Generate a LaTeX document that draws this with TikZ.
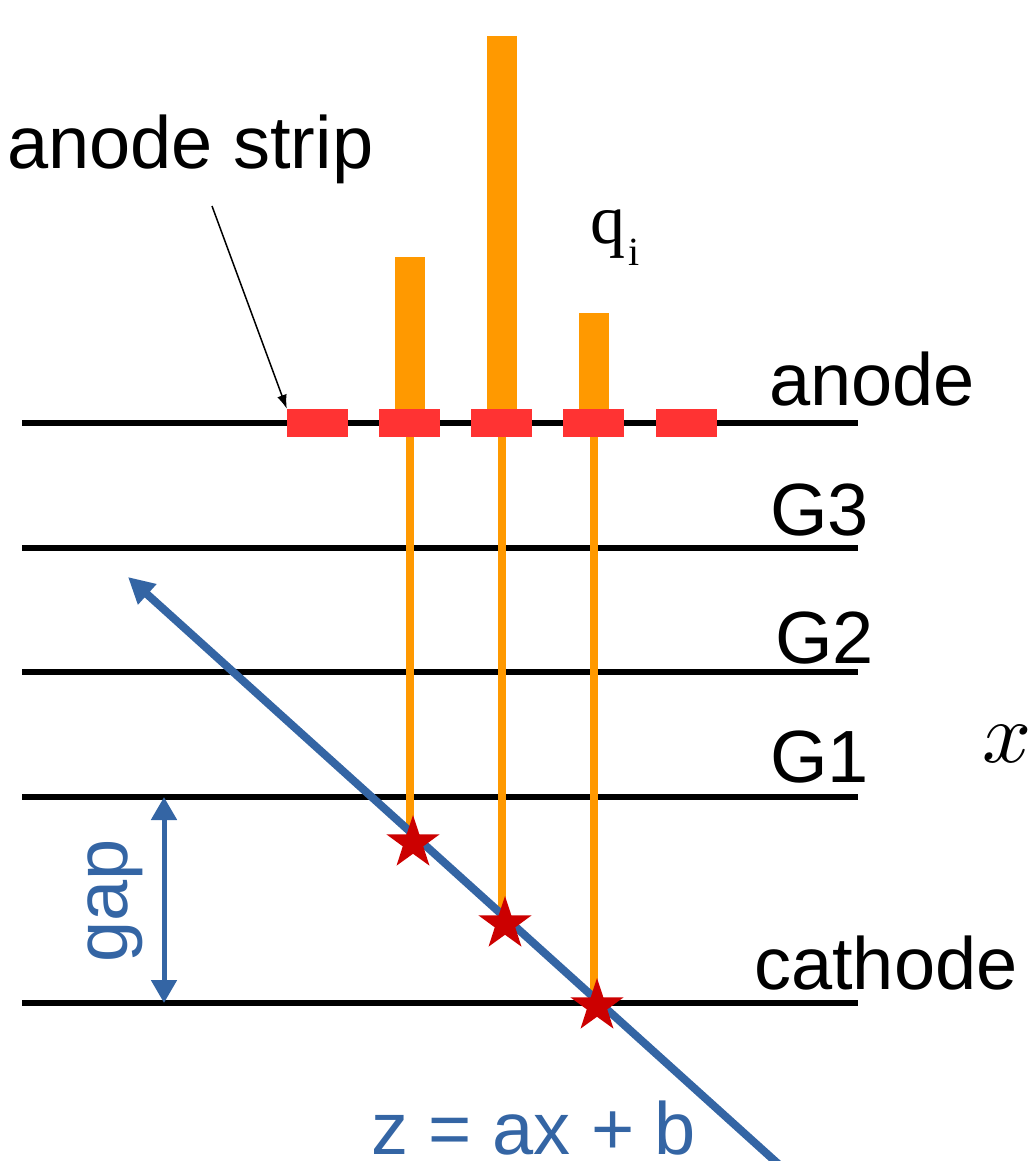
\documentclass[tikz,border=0pt]{standalone}
\usepackage{fontspec}
\setmainfont{Liberation Sans}
\newfontfamily\timesfont{Liberation Serif}
\usetikzlibrary{shapes.geometric,arrows.meta}
\definecolor{stripred}{RGB}{255,51,51}
\definecolor{barorange}{RGB}{255,153,0}
\definecolor{lineblue}{RGB}{52,101,164}
\definecolor{stardark}{RGB}{204,0,0}
\begin{document}
\begin{tikzpicture}[x=1pt,y=-1pt,
  plane/.style={line width=6pt, black},
  strip/.style={fill=stripred, minimum width=61pt, minimum height=28pt, inner sep=0pt, draw=none},
  bar/.style={fill=barorange},
  drop/.style={barorange, line width=8pt},
  lbl/.style={anchor=base west, inner sep=0pt, font=\fontsize{74}{80}\selectfont},
  hit/.style={star, star points=5, star point ratio=2.6, minimum size=56pt, inner sep=0pt, fill=stardark, draw=none}
]
\useasboundingbox (0,0) rectangle (1033,1161);

% planes
\draw[plane] (22,423) coordinate (aL) -- (858,423) coordinate (aR);
\draw[plane] (22,548) coordinate (g3L) -- (858,548) coordinate (g3R);
\draw[plane] (22,672) coordinate (g2L) -- (858,672) coordinate (g2R);
\draw[plane] (22,797) coordinate (g1L) -- (858,797) coordinate (g1R);
\draw[plane] (22,1003) coordinate (cL) -- (858,1003) coordinate (cR);

% charge bars
\fill[bar] (395,257) rectangle (425,410);
\fill[bar] (487,36) rectangle (517,410);
\fill[bar] (579,313) rectangle (609,410);

% star positions
\coordinate (p1) at (413,843);
\coordinate (p2) at (505,924);
\coordinate (p3) at (597,1006);

% strips
\node[strip] (s1) at (317.5,423) {};
\node[strip] (s2) at (409.5,423) {};
\node[strip] (s3) at (501.5,423) {};
\node[strip] (s4) at (593.5,423) {};
\node[strip] (s5) at (686,423) {};

% drops
\draw[drop] (s2.south) -- (s2.south |- p1);
\draw[drop] (s3.south) -- (s3.south |- p2);
\draw[drop] (s4.south) -- (s4.south |- p3);

% track
\coordinate (tip) at (128,577);
\coordinate (tail) at (796,1180);
\draw[lineblue, line width=8pt, -{Triangle[length=26pt,width=26pt]}] (tail) -- (tip);

% hits
\node[hit] (st1) at (p1) {};
\node[hit] (st2) at (p2) {};
\node[hit] (st3) at (p3) {};

% gap arrow
\coordinate (gt) at (164,797);
\coordinate (gb) at (164,1003);
\draw[lineblue, line width=5pt, {Triangle[length=23pt,width=25pt]}-{Triangle[length=23pt,width=25pt]}] (gt) -- (gb);
\node[lbl, text=lineblue, rotate=90] (gap) at (127,963) {gap};

% labels
\node[lbl] (astrip) at (7,168) {anode strip};
\coordinate (astart) at (212,206);
\draw[line width=1.5pt, -{Latex[length=14pt,width=10pt]}] (astart) -- (s1.north west);

\node[lbl] (lanode) at (769,405) {anode};
\node[lbl] (lg3) at (770,535) {G3};
\node[lbl] (lg2) at (775,663) {G2};
\node[lbl] (lg1) at (770,782) {G1};
\node[lbl] (lcath) at (754,989) {cathode};
\node[lbl, text=lineblue] (leq) at (371,1154) {z = ax + b};

\node[anchor=base west, inner sep=0pt] (lq) at (590,243) {\timesfont\fontsize{70}{70}\selectfont q\kern3pt\raisebox{-22pt}{\fontsize{40}{40}\selectfont i}};
\node[anchor=base west, inner sep=0pt] (lx) at (982,762) {\scalebox{8.6}{$x$}};
\end{tikzpicture}
\end{document}
